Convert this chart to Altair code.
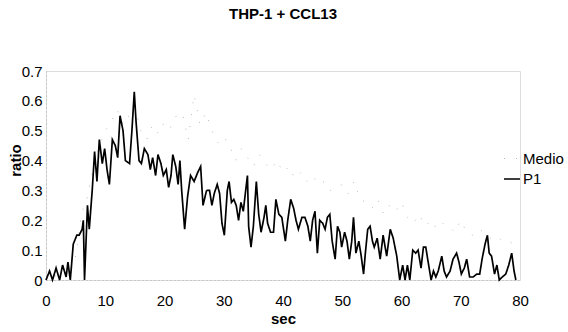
import altair as alt
import pandas as pd

chart_title = "THP-1 + CCL13"
series_names = ["Medio", "P1"]
x_ticks = [0, 10, 20, 30, 40, 50, 60, 70, 80]
y_ticks = [0, 0.1, 0.2, 0.3, 0.4, 0.5, 0.6, 0.7]

p1_sec = [
    0.0, 0.6, 1.1, 1.7, 2.3, 2.8, 3.4, 3.7, 4.1, 4.6, 5.2, 5.6, 6.1, 6.3, 6.5, 6.8,
    7.0, 7.3, 7.8, 8.2, 8.6, 9.0, 9.5, 9.9, 10.3, 10.7, 11.2, 11.7, 12.1, 12.5, 13.0,
    13.4, 14.1, 14.5, 14.9, 15.2, 15.7, 16.1, 16.6, 17.2, 17.6, 18.0, 18.5, 18.9, 19.4,
    19.8, 20.3, 20.7, 21.1, 21.4, 21.9, 22.3, 22.6,
    22.9, 23.4, 23.9, 24.4, 25.0, 25.6, 26.1, 26.5, 27.1, 27.6, 28.0, 28.4, 28.9, 29.3,
    29.7, 30.1, 30.6, 30.9, 31.3, 31.7, 32.1, 32.5, 32.9, 33.3, 33.7, 34.0, 34.2, 34.6,
    35.0, 35.5, 35.9, 36.3, 36.8, 37.1, 37.4, 37.9, 38.4, 38.8, 39.3, 39.8, 40.4, 40.8,
    41.3, 41.8, 42.2, 42.6, 43.2, 43.7, 44.2, 44.6, 45.0, 45.4, 45.8, 46.2, 46.7, 47.1,
    47.5, 47.9, 48.3, 48.8, 49.2, 49.6, 49.9, 50.4, 50.8, 51.2, 51.6, 51.9, 52.3, 52.8,
    53.2, 53.6, 53.9, 54.3, 54.7, 55.1,
    55.4, 55.9, 56.4, 56.9, 57.5, 58.1, 58.6, 59.2, 59.7, 60.2, 60.6, 61.0, 61.4, 61.9,
    62.4, 62.8, 63.3, 63.7, 64.1, 64.5, 65.0, 65.4, 65.8, 66.2, 66.8, 67.2, 67.6, 68.2,
    68.7, 69.3, 69.7, 70.1, 70.6, 71.0, 71.5, 72.1, 72.7, 73.2, 73.6, 74.1, 74.5, 74.8,
    75.2, 75.7, 76.1, 76.5, 77.0, 77.6, 78.1, 78.6, 79.0, 79.3,
]
p1_val = [
    0.00, 0.03, 0.00, 0.04, 0.00, 0.05, 0.01, 0.06, 0.00, 0.12, 0.15, 0.15, 0.17, 0.20, 0.00, 0.15,
    0.25, 0.17, 0.30, 0.43, 0.33, 0.47, 0.39, 0.44, 0.37, 0.32, 0.47, 0.45, 0.41, 0.55, 0.50,
    0.40, 0.39, 0.50, 0.63, 0.53, 0.40, 0.39, 0.44, 0.42, 0.37, 0.41, 0.35, 0.42, 0.39,
    0.35, 0.37, 0.31, 0.35, 0.42, 0.38, 0.32, 0.40,
    0.30, 0.17, 0.28, 0.35, 0.33, 0.36, 0.38, 0.25, 0.30, 0.30, 0.25, 0.29, 0.32, 0.29,
    0.19, 0.15, 0.30, 0.33, 0.26, 0.27, 0.25, 0.20, 0.26, 0.23, 0.30, 0.35, 0.18, 0.11,
    0.18, 0.33, 0.22, 0.16, 0.21, 0.25, 0.19, 0.16, 0.16, 0.27, 0.22, 0.21, 0.13, 0.20,
    0.27, 0.24, 0.20, 0.17, 0.21, 0.21, 0.18, 0.13, 0.20, 0.23, 0.09, 0.20, 0.19, 0.17,
    0.21, 0.22, 0.13, 0.07, 0.18, 0.16, 0.11, 0.16, 0.13, 0.07, 0.13, 0.21, 0.09, 0.13,
    0.08, 0.02, 0.09, 0.17, 0.18, 0.13,
    0.11, 0.14, 0.07, 0.15, 0.08, 0.17, 0.14, 0.08, 0.00, 0.05, 0.00, 0.05, 0.00, 0.10,
    0.09, 0.10, 0.04, 0.11, 0.11, 0.06, 0.00, 0.03, 0.01, 0.03, 0.08, 0.03, 0.01, 0.03,
    0.07, 0.09, 0.06, 0.02, 0.04, 0.07, 0.01, 0.01, 0.02, 0.02, 0.07, 0.12, 0.15, 0.09,
    0.08, 0.02, 0.05, 0.00, 0.01, 0.02, 0.05, 0.09, 0.03, 0.00,
]

medio_sec = [
    0, 1, 2, 3, 4, 5, 6, 7, 8, 9, 10, 11, 12, 13, 14, 15, 16, 17, 18, 19, 20, 21, 22, 23,
    24, 25, 26, 27, 28, 29, 30, 31, 32, 33, 34, 35, 36, 37, 38, 39, 40, 41, 42, 43, 44, 45,
    46, 47, 48, 49, 50, 51, 52, 53, 54, 55, 56, 57, 58, 59, 60, 61, 62, 63, 64, 65, 66, 67,
    68, 69, 70, 71, 72, 73, 74, 75, 76, 77, 78, 79,
]
medio_val = [
    0.00, 0.02, 0.01, 0.03, 0.02, 0.08, 0.22, 0.28, 0.38, 0.45, 0.50, 0.53, 0.57, 0.52,
    0.55, 0.58, 0.50, 0.47, 0.52, 0.49, 0.53, 0.51, 0.55, 0.56, 0.47, 0.62, 0.52, 0.56,
    0.50, 0.46, 0.48, 0.45, 0.40, 0.44, 0.41, 0.38, 0.42, 0.39, 0.37, 0.40, 0.36, 0.38,
    0.34, 0.36, 0.33, 0.35, 0.32, 0.33, 0.30, 0.31, 0.32, 0.29, 0.33, 0.27, 0.26, 0.24,
    0.27, 0.22, 0.25, 0.23, 0.26, 0.21, 0.19, 0.22, 0.18, 0.20, 0.17, 0.19, 0.18, 0.16,
    0.20, 0.16, 0.15, 0.17, 0.16, 0.14, 0.15, 0.13, 0.13, 0.12,
]

df = pd.concat([
    pd.DataFrame({"sec": medio_sec, "ratio": medio_val, "series": series_names[0],
                  "idx": range(len(medio_sec))}),
    pd.DataFrame({"sec": p1_sec, "ratio": p1_val, "series": series_names[1],
                  "idx": range(len(p1_sec))}),
])

FONT = "Liberation Sans"

x_enc = alt.X(
    "sec:Q",
    scale=alt.Scale(domain=[0, 80], nice=False, zero=False),
    axis=alt.Axis(
        values=x_ticks, title="sec", ticks=False, grid=False,
        labelFont=FONT, labelFontSize=15, labelColor="black", labelPadding=13,
        titleFont=FONT, titleFontSize=15, titleFontWeight="bold", titleColor="black",
        titlePadding=3,
        domainColor="#b0b0b0", domainDash=[1, 3], domainWidth=1,
        labelFlush=False,
    ),
)
y_enc = alt.Y(
    "ratio:Q",
    scale=alt.Scale(domain=[0, 0.7], nice=False),
    axis=alt.Axis(
        values=y_ticks, format=".1~f", title="ratio", ticks=False, grid=False,
        labelFont=FONT, labelFontSize=15, labelColor="black", labelPadding=4,
        titleFont=FONT, titleFontSize=15, titleFontWeight="bold", titleColor="black",
        titleAngle=270, titleAlign="center", titleBaseline="middle",
        titleX=-31, titleY=89,
        domainColor="#b0b0b0", domainDash=[1, 3], domainWidth=1,
        labelFlush=False,
    ),
)

color_enc = alt.Color(
    "series:N",
    scale=alt.Scale(domain=series_names, range=["#b8b8b8", "#000000"]),
    legend=alt.Legend(
        title=None, orient="none", legendX=457, legendY=79,
        symbolType="stroke", symbolSize=256, symbolStrokeWidth=1.5,
        labelFont=FONT, labelFontSize=15, labelColor="black", labelOffset=2,
        rowPadding=3, padding=0,
    ),
)
dash_enc = alt.StrokeDash(
    "series:N",
    scale=alt.Scale(domain=series_names, range=[[1, 11], [1, 0]]),
    legend=None,
)
width_enc = alt.StrokeWidth(
    "series:N",
    scale=alt.Scale(domain=series_names, range=[1.0, 1.7]),
    legend=None,
)

chart = alt.Chart(df).mark_line(interpolate="linear").encode(
    x=x_enc, y=y_enc, color=color_enc, strokeDash=dash_enc, strokeWidth=width_enc,
    detail="series:N", order="idx:Q",
).properties(
    width=474, height=209,
    title=alt.TitleParams(
        chart_title, font=FONT, fontSize=15, fontWeight="bold", color="black",
        anchor="middle", offset=42,
    ),
    autosize=alt.AutoSizeParams(type="none"),
    padding={"left": 46, "top": 71, "right": 48, "bottom": 52},
).configure_view(stroke=None).configure(background="white")

chart.save("out.html", embed_options={"renderer": "svg", "actions": False})
